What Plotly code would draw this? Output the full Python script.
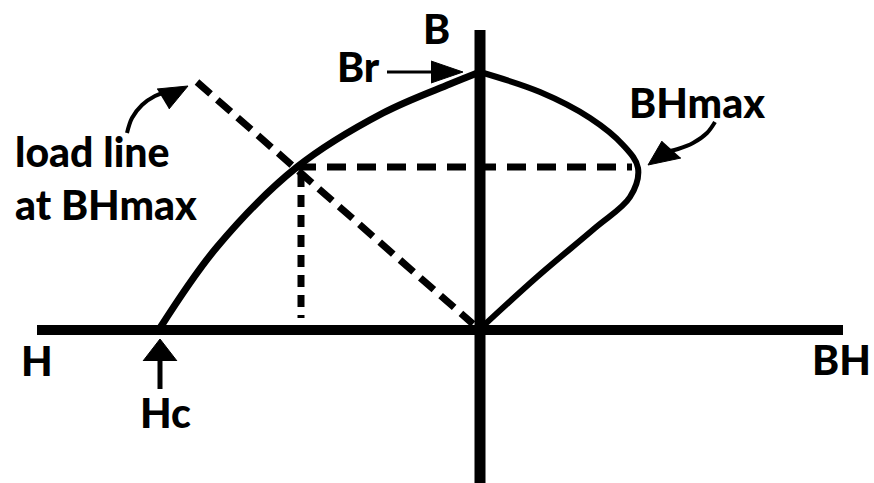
import plotly.graph_objects as go

# demagnetisation curve, second quadrant (H < 0) and BH product (right side)
# coordinates are in picture units: x to the right, y downwards
curve_h_x = [160, 217, 297, 383, 450, 480]
curve_h_y = [328, 247, 167, 113, 84, 72]

curve_bh_x = [480, 540, 590, 623, 638, 630, 595, 537, 480]
curve_bh_y = [72, 92, 118, 145, 168, 197, 228, 277, 329]

# axes
h_axis_x = [37, 843]
h_axis_y = [330, 330]
b_axis_x = [480, 480]
b_axis_y = [30, 483]

# construction lines
load_line_x = [197, 473]
load_line_y = [82, 324]
bhmax_level_x = [297, 632]
bhmax_level_y = [167, 167]
bhmax_drop_x = [301, 301]
bhmax_drop_y = [175, 318]

# arrows: shaft points and head triangles
br_shaft_x, br_shaft_y = [387, 436], [72, 72]
br_head_x, br_head_y = [431, 463, 431], [61, 72, 83]
hc_shaft_x, hc_shaft_y = [160, 160], [389, 356]
hc_head_x, hc_head_y = [143, 160, 177], [361, 339, 361]
load_shaft_x = [127, 132, 142, 155, 166]
load_shaft_y = [133, 118, 105, 96, 92]
load_head_x, load_head_y = [157, 188, 169], [89, 86, 109]
bhm_shaft_x = [715, 707, 693, 678, 670]
bhm_shaft_y = [122, 133, 143, 149, 151]
bhm_head_x, bhm_head_y = [662, 648, 681], [141, 165, 158]

labels = ["B", "Br", "BHmax", "load line<br>at BHmax", "H", "Hc", "BH"]
label_x = [436, 358, 697, 106, 37, 165, 873]
label_y = [28, 66, 102, 178, 360, 412, 359]
label_anchor = ["center", "center", "center", "center", "center", "center", "right"]

K = "black"
fig = go.Figure()

def line(x, y, w, dash="solid", shape="linear"):
    fig.add_trace(go.Scatter(x=x, y=y, mode="lines",
                             line=dict(color=K, width=w, dash=dash, shape=shape),
                             hoverinfo="skip", showlegend=False))

def head(x, y):
    fig.add_trace(go.Scatter(x=x, y=y, mode="lines", fill="toself", fillcolor=K,
                             line=dict(color=K, width=1),
                             hoverinfo="skip", showlegend=False))

line(load_line_x, load_line_y, 7, dash="18px,9px")
line(bhmax_level_x, bhmax_level_y, 7, dash="19px,11px")
line(bhmax_drop_x, bhmax_drop_y, 7, dash="12px,8px")
line(curve_h_x, curve_h_y, 7, shape="spline")
line(curve_bh_x, curve_bh_y, 6, shape="spline")
line(h_axis_x, h_axis_y, 10)
line(b_axis_x, b_axis_y, 11)

line(br_shaft_x, br_shaft_y, 3)
head(br_head_x, br_head_y)
line(hc_shaft_x, hc_shaft_y, 5)
head(hc_head_x, hc_head_y)
line(load_shaft_x, load_shaft_y, 4, shape="spline")
head(load_head_x, load_head_y)
line(bhm_shaft_x, bhm_shaft_y, 4, shape="spline")
head(bhm_head_x, bhm_head_y)

for t, x, y, a in zip(labels, label_x, label_y, label_anchor):
    fig.add_annotation(x=x, y=y, text=t, showarrow=False, xanchor=a, yanchor="middle",
                       align="left",
                       font=dict(family="Lato, DejaVu Sans", size=41,
                                 color=K, weight=900))

fig.update_layout(
    width=874, height=483,
    margin=dict(l=0, r=0, t=0, b=0),
    paper_bgcolor="white", plot_bgcolor="white",
    xaxis=dict(range=[0, 874], visible=False, fixedrange=True),
    yaxis=dict(range=[483, 0], visible=False, fixedrange=True),
)

# drop the page's default body margin so the figure sits at the window corner
fig.write_html("out.html", config={"displayModeBar": False},
               post_script="document.body.style.margin='0';")
